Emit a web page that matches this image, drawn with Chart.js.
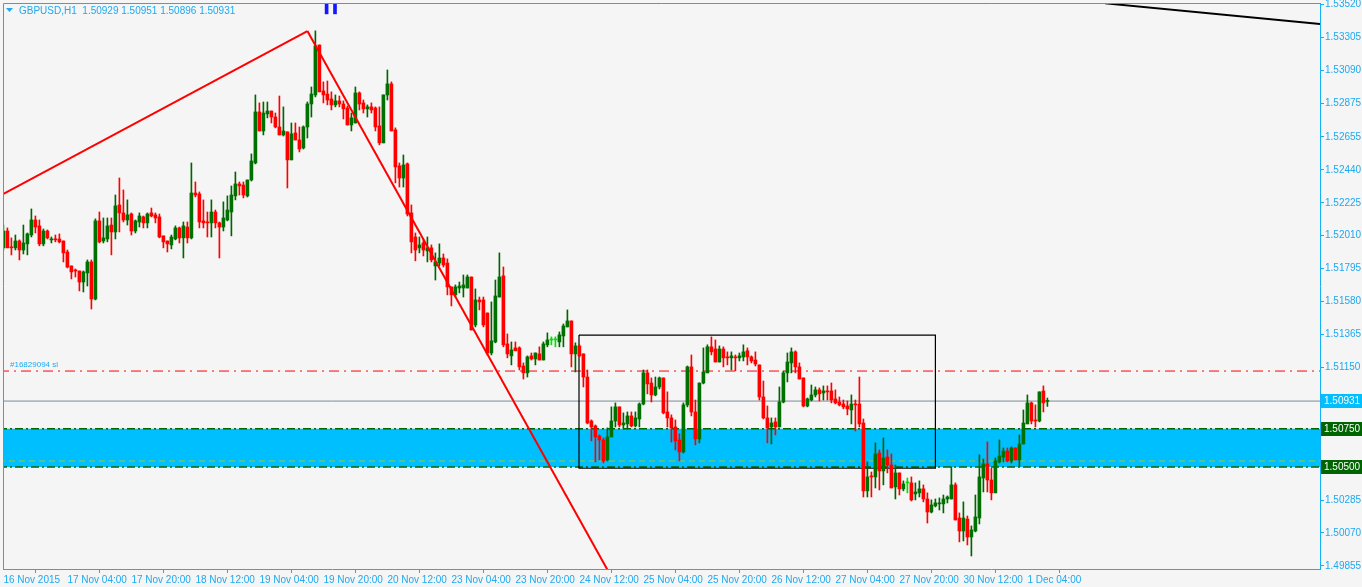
<!DOCTYPE html>
<html>
<head>
<meta charset="utf-8">
<script src="https://cdn.jsdelivr.net/npm/chart.js@4.4.1/dist/chart.umd.min.js"></script>
<style>
  html, body { margin: 0; padding: 0; background: #f5f5f5; }
  canvas { display: block; }
</style>
</head>
<body>
<canvas id="chart" width="1362" height="587"></canvas>
<script>
// GBPUSD H1 candles, 16 Nov 2015 12:00 -> 1 Dec 2015 09:00
const openP = [
  1.51931,1.52041,1.51937,1.51931,1.51976,1.51917,1.51957,1.52015,1.52113,1.52074,
  1.51957,1.52041,1.51983,1.51989,1.51989,1.51976,1.51904,1.51813,1.51787,1.51780,
  1.51708,1.51767,1.51839,1.51597,1.52107,1.51976,1.51989,1.52080,1.52035,1.52211,
  1.52159,1.52113,1.52152,1.52041,1.52100,1.52133,1.52094,1.52159,1.52146,1.52133,
  1.52009,1.51976,1.51950,1.51989,1.52061,1.51996,1.52067,1.51996,1.52289,1.52283,
  1.52107,1.52100,1.52094,1.52165,1.52094,1.52067,1.52113,1.52165,1.52270,1.52348,
  1.52341,1.52270,1.52374,1.52485,1.52818,1.52694,1.52805,1.52824,1.52785,1.52720,
  1.52668,1.52688,1.52505,1.52681,1.52635,1.52583,1.52720,1.52870,1.52929,1.53255,
  1.52955,1.52935,1.52903,1.52864,1.52890,1.52870,1.52844,1.52733,1.52746,1.52942,
  1.52877,1.52838,1.52851,1.52844,1.52727,1.52616,1.52929,1.53001,1.52701,1.52466,
  1.52387,1.52479,1.52159,1.52002,1.51931,1.51963,1.51911,1.51931,1.51813,1.51832,
  1.51865,1.51832,1.51676,1.51624,1.51669,1.51669,1.51669,1.51741,1.51428,1.51591,
  1.51591,1.51506,1.51245,1.51317,1.51610,1.51748,1.51304,1.51226,1.51278,1.51278,
  1.51160,1.51115,1.51226,1.51206,1.51239,1.51199,1.51298,1.51330,1.51330,1.51317,
  1.51356,1.51415,1.51454,1.51239,1.51291,1.51239,1.51088,1.50801,1.50769,1.50703,
  1.50677,1.50547,1.50697,1.50801,1.50893,1.50775,1.50782,1.50834,1.50769,1.50814,
  1.50912,1.51115,1.51049,1.50971,1.51023,1.51082,1.50860,1.50821,1.50762,1.50677,
  1.50599,1.50906,1.51154,1.50860,1.50684,1.51049,1.51115,1.51285,1.51271,1.51186,
  1.51271,1.51219,1.51213,1.51219,1.51213,1.51219,1.51259,1.51219,1.51199,1.51167,
  1.50958,1.50821,1.50762,1.50795,1.50762,1.50925,1.51115,1.51180,1.51252,1.51154,
  1.51082,1.50899,1.50938,1.50971,1.51004,1.50984,1.50997,1.50997,1.50945,1.50925,
  1.50912,1.50899,1.50873,1.50912,1.50912,1.50788,1.50345,1.50442,1.50436,1.50592,
  1.50475,1.50566,1.50514,1.50371,1.50462,1.50358,1.50397,1.50397,1.50325,1.50332,
  1.50358,1.50292,1.50207,1.50247,1.50260,1.50260,1.50292,1.50292,1.50384,1.50168,
  1.50083,1.50161,1.50044,1.50083,1.50168,1.50429,1.50521,1.50416,1.50332,1.50534,
  1.50566,1.50605,1.50540,1.50625,1.50547,1.50651,1.50782,1.50919,1.50808,1.50801,
  1.50997,1.50929
];
const highP = [
  1.52080,1.52061,1.51996,1.52015,1.51983,1.52080,1.52028,1.52185,1.52139,1.52113,
  1.52054,1.52048,1.52002,1.52015,1.52022,1.51976,1.51917,1.51813,1.51793,1.51780,
  1.51780,1.51852,1.51852,1.52120,1.52165,1.52126,1.52126,1.52126,1.52276,1.52387,
  1.52309,1.52244,1.52159,1.52113,1.52159,1.52139,1.52159,1.52191,1.52159,1.52152,
  1.52009,1.51976,1.52015,1.52074,1.52067,1.52100,1.52100,1.52485,1.52361,1.52296,
  1.52244,1.52165,1.52244,1.52178,1.52100,1.52231,1.52270,1.52335,1.52426,1.52361,
  1.52361,1.52374,1.52544,1.52929,1.52877,1.52883,1.52883,1.52824,1.52811,1.52922,
  1.52851,1.52688,1.52746,1.52746,1.52720,1.52727,1.52883,1.52981,1.53347,1.53255,
  1.53014,1.53020,1.52949,1.52929,1.52922,1.52890,1.52857,1.52811,1.52981,1.52949,
  1.52896,1.52864,1.52877,1.52851,1.52851,1.52929,1.53092,1.53014,1.52714,1.52485,
  1.52537,1.52485,1.52211,1.52028,1.52002,1.51989,1.52002,1.51950,1.51898,1.51957,
  1.51891,1.51859,1.51676,1.51689,1.51708,1.51754,1.51754,1.51741,1.51663,1.51610,
  1.51610,1.51506,1.51578,1.51721,1.51898,1.51806,1.51369,1.51317,1.51317,1.51285,
  1.51180,1.51226,1.51245,1.51245,1.51285,1.51317,1.51376,1.51350,1.51350,1.51382,
  1.51434,1.51526,1.51454,1.51311,1.51298,1.51239,1.51134,1.50808,1.50775,1.50710,
  1.50690,1.50756,1.50893,1.50919,1.50893,1.50854,1.50860,1.50860,1.50860,1.50919,
  1.51134,1.51134,1.51082,1.51088,1.51088,1.51082,1.50991,1.50841,1.50808,1.50717,
  1.50919,1.51160,1.51232,1.50938,1.51049,1.51278,1.51298,1.51350,1.51330,1.51291,
  1.51285,1.51252,1.51252,1.51232,1.51245,1.51298,1.51278,1.51226,1.51252,1.51167,
  1.51062,1.50899,1.50821,1.50821,1.51023,1.51128,1.51245,1.51278,1.51259,1.51180,
  1.51082,1.50951,1.51036,1.51023,1.51017,1.51030,1.51030,1.51049,1.51004,1.50958,
  1.50938,1.50932,1.50971,1.50938,1.51088,1.50814,1.50534,1.50468,1.50658,1.50612,
  1.50690,1.50612,1.50586,1.50514,1.50462,1.50410,1.50429,1.50436,1.50397,1.50410,
  1.50384,1.50332,1.50286,1.50292,1.50299,1.50318,1.50312,1.50501,1.50397,1.50201,
  1.50273,1.50181,1.50116,1.50318,1.50580,1.50553,1.50664,1.50494,1.50560,1.50677,
  1.50625,1.50625,1.50632,1.50625,1.50710,1.50873,1.50971,1.50925,1.50906,1.50991,
  1.51030,1.50951
];
const lowP = [
  1.51917,1.51931,1.51885,1.51917,1.51852,1.51891,1.51885,1.52002,1.52028,1.51944,
  1.51944,1.51989,1.51963,1.51970,1.51963,1.51839,1.51800,1.51728,1.51741,1.51650,
  1.51643,1.51682,1.51532,1.51591,1.51963,1.51963,1.51970,1.51885,1.51989,1.52035,
  1.52100,1.52080,1.52015,1.52028,1.52067,1.52061,1.52061,1.52133,1.52094,1.51996,
  1.51931,1.51904,1.51924,1.51983,1.51963,1.51865,1.51963,1.51989,1.52263,1.52061,
  1.52061,1.52002,1.52002,1.52061,1.51865,1.52041,1.52107,1.52009,1.52244,1.52276,
  1.52257,1.52263,1.52367,1.52479,1.52694,1.52668,1.52779,1.52746,1.52714,1.52668,
  1.52661,1.52322,1.52505,1.52635,1.52557,1.52576,1.52648,1.52785,1.52916,1.52949,
  1.52877,1.52864,1.52831,1.52851,1.52851,1.52772,1.52733,1.52694,1.52746,1.52831,
  1.52811,1.52785,1.52811,1.52694,1.52603,1.52616,1.52896,1.52694,1.52355,1.52328,
  1.52328,1.52139,1.51898,1.51846,1.51898,1.51878,1.51839,1.51839,1.51721,1.51813,
  1.51806,1.51624,1.51552,1.51610,1.51637,1.51610,1.51669,1.51395,1.51415,1.51526,
  1.51415,1.51232,1.51232,1.51311,1.51610,1.51285,1.51213,1.51167,1.51259,1.51134,
  1.51075,1.51088,1.51199,1.51167,1.51199,1.51199,1.51285,1.51298,1.51285,1.51285,
  1.51285,1.51415,1.51154,1.51121,1.51219,1.51023,1.50782,1.50671,1.50534,1.50547,
  1.50527,1.50540,1.50697,1.50762,1.50762,1.50749,1.50749,1.50762,1.50762,1.50762,
  1.50906,1.50978,1.50925,1.50965,1.51010,1.50847,1.50762,1.50664,1.50612,1.50540,
  1.50592,1.50893,1.50834,1.50645,1.50658,1.51043,1.51115,1.51232,1.51186,1.51186,
  1.51154,1.51167,1.51134,1.51128,1.51193,1.51193,1.51167,1.51180,1.51160,1.50938,
  1.50814,1.50658,1.50651,1.50710,1.50762,1.50919,1.51056,1.51115,1.51115,1.51075,
  1.50893,1.50893,1.50932,1.50958,1.50932,1.50938,1.50938,1.50919,1.50912,1.50899,
  1.50880,1.50841,1.50782,1.50736,1.50762,1.50305,1.50305,1.50305,1.50364,1.50351,
  1.50384,1.50462,1.50364,1.50292,1.50318,1.50345,1.50332,1.50279,1.50286,1.50305,
  1.50273,1.50135,1.50201,1.50240,1.50220,1.50201,1.50266,1.50292,1.50155,1.50012,
  1.50018,1.49992,1.49920,1.50077,1.50129,1.50338,1.50338,1.50286,1.50332,1.50527,
  1.50534,1.50534,1.50527,1.50547,1.50501,1.50651,1.50782,1.50782,1.50762,1.50795,
  1.50860,1.50896
];
const closeP = [
  1.52041,1.51931,1.51931,1.51976,1.51917,1.51963,1.52022,1.52113,1.52067,1.51957,
  1.52041,1.51996,1.51989,1.51983,1.51970,1.51898,1.51806,1.51774,1.51780,1.51708,
  1.51774,1.51839,1.51597,1.52107,1.51970,1.51996,1.52074,1.52035,1.52205,1.52159,
  1.52113,1.52146,1.52041,1.52107,1.52139,1.52094,1.52152,1.52139,1.52126,1.52002,
  1.51970,1.51957,1.52002,1.52061,1.51996,1.52074,1.51996,1.52289,1.52276,1.52100,
  1.52094,1.52094,1.52165,1.52094,1.52067,1.52126,1.52178,1.52276,1.52348,1.52335,
  1.52276,1.52374,1.52498,1.52818,1.52694,1.52811,1.52824,1.52785,1.52720,1.52668,
  1.52694,1.52505,1.52675,1.52635,1.52576,1.52720,1.52870,1.52935,1.53249,1.52949,
  1.52929,1.52896,1.52864,1.52890,1.52870,1.52838,1.52733,1.52779,1.52942,1.52870,
  1.52838,1.52851,1.52831,1.52720,1.52616,1.52929,1.53001,1.52694,1.52459,1.52387,
  1.52472,1.52152,1.51970,1.51917,1.51950,1.51917,1.51931,1.51852,1.51839,1.51865,
  1.51819,1.51676,1.51624,1.51676,1.51682,1.51689,1.51741,1.51395,1.51591,1.51578,
  1.51428,1.51245,1.51324,1.51617,1.51741,1.51298,1.51239,1.51265,1.51259,1.51154,
  1.51115,1.51219,1.51206,1.51245,1.51199,1.51304,1.51330,1.51330,1.51330,1.51363,
  1.51421,1.51454,1.51239,1.51291,1.51226,1.51088,1.50788,1.50762,1.50697,1.50677,
  1.50540,1.50697,1.50801,1.50893,1.50775,1.50788,1.50834,1.50769,1.50821,1.50912,
  1.51115,1.51043,1.50971,1.51023,1.51082,1.50854,1.50821,1.50756,1.50671,1.50599,
  1.50906,1.51154,1.50860,1.50684,1.51049,1.51121,1.51285,1.51252,1.51186,1.51271,
  1.51213,1.51213,1.51226,1.51213,1.51226,1.51252,1.51219,1.51193,1.51173,1.50958,
  1.50821,1.50756,1.50788,1.50762,1.50925,1.51115,1.51186,1.51252,1.51154,1.51075,
  1.50899,1.50945,1.50971,1.51004,1.50978,1.50997,1.50991,1.50938,1.50919,1.50906,
  1.50893,1.50880,1.50912,1.50906,1.50782,1.50345,1.50436,1.50436,1.50586,1.50475,
  1.50560,1.50514,1.50364,1.50462,1.50358,1.50390,1.50397,1.50286,1.50338,1.50358,
  1.50292,1.50207,1.50253,1.50266,1.50266,1.50292,1.50305,1.50384,1.50155,1.50083,
  1.50168,1.50044,1.50090,1.50175,1.50436,1.50521,1.50416,1.50332,1.50540,1.50573,
  1.50605,1.50540,1.50625,1.50547,1.50651,1.50788,1.50919,1.50801,1.50801,1.50991,
  1.50919,1.50931
];

const xTickBars = [0, 16, 32, 48, 64, 80, 96, 112, 128, 144, 160, 176, 192, 208, 224, 240, 256];
const xTickLabels = ["16 Nov 2015", "17 Nov 04:00", "17 Nov 20:00", "18 Nov 12:00", "19 Nov 04:00",
  "19 Nov 20:00", "20 Nov 12:00", "23 Nov 04:00", "23 Nov 20:00", "24 Nov 12:00", "25 Nov 04:00",
  "25 Nov 20:00", "26 Nov 12:00", "27 Nov 04:00", "27 Nov 20:00", "30 Nov 12:00", "1 Dec 04:00"];
const yTicks = [1.53520, 1.53305, 1.53090, 1.52875, 1.52655, 1.52440, 1.52225, 1.52010, 1.51795,
  1.51580, 1.51365, 1.51150, 1.50935, 1.50720, 1.50505, 1.50285, 1.50070, 1.49855];

// chart objects
const zoneTop = 1.50750, zoneBottom = 1.50500;
const slLevel = 1.51127, bidLevel = 1.50931, entryLevel = 1.50540;
const zigzagUp = [{ x: 0, y: 1.52283 }, { x: 76, y: 1.53346 }];
const zigzagDown = [{ x: 76, y: 1.53346 }, { x: 156, y: 1.49596 }];
const topTrend = [{ x: 275.4, y: 1.53527 }, { x: 330, y: 1.53390 }];
const boxBars = [143.9, 233.0];
const boxPrices = [1.51362, 1.50494];
const markerBars = [80.8, 82.9];
const markerRange = [1.53458, 1.53535];
const tagLevels = [1.50931, 1.50750, 1.50500];
const header = "GBPUSD,H1  1.50929 1.50951 1.50896 1.50931";
const slText = "#16829094 sl";

const X_MIN = -0.1, X_MAX = 329.15;
const Y_MIN = 1.49835, Y_MAX = 1.53529;
const AXIS_BLUE = "#12b2f2";
const TEXT_BLUE = "#1ea9f0";
const FONT = "Liberation Sans";

const idx = openP.map((_, i) => i);
const kind = idx.map(i => closeP[i] > openP[i] ? 1 : (closeP[i] < openP[i] ? -1 : 0));
const wickColor = kind.map(k => k > 0 ? "#006400" : (k < 0 ? "#ff0000" : "#00e000"));
const bodyColor = kind.map(k => k > 0 ? "#007000" : (k < 0 ? "#ff0000" : "#00e000"));

function hLine(y, color, dash, width) {
  return {
    type: "line",
    data: [{ x: X_MIN - 1, y }, { x: X_MAX + 1, y }],
    borderColor: color, borderWidth: width || 1, borderDash: dash || [],
    pointRadius: 0, clip: 0, order: 8
  };
}

const frame = {
  id: "frame",
  afterDraw(chart) {
    const { ctx, chartArea: a, scales } = chart;
    ctx.save();
    // left and top border of the plot
    ctx.strokeStyle = AXIS_BLUE;
    ctx.lineWidth = 1;
    ctx.beginPath();
    ctx.moveTo(a.left + 0.5, a.bottom);
    ctx.lineTo(a.left + 0.5, a.top + 0.5);
    ctx.lineTo(a.right, a.top + 0.5);
    ctx.stroke();

    // header
    ctx.fillStyle = TEXT_BLUE;
    ctx.beginPath();
    ctx.moveTo(6, 8); ctx.lineTo(13, 8); ctx.lineTo(9.5, 12);
    ctx.closePath();
    ctx.fill();
    ctx.font = "10px '" + FONT + "'";
    ctx.textBaseline = "alphabetic";
    ctx.fillText(header, 19, 14);

    // stop-loss label
    ctx.font = "8px '" + FONT + "'";
    const ySl = scales.y.getPixelForValue(slLevel);
    ctx.fillText(slText, 10, ySl - 4);

    // price tags on the axis
    const bgs = ["#00bfff", "#006400", "#006400"];
    ctx.font = "10px '" + FONT + "'";
    ctx.textBaseline = "middle";
    tagLevels.forEach((v, k) => {
      const y = Math.round(scales.y.getPixelForValue(v));
      ctx.fillStyle = bgs[k];
      ctx.fillRect(a.right + 1, y - 7, 41, 14);
      ctx.fillStyle = "#ffffff";
      ctx.fillText(v.toFixed(5), a.right + 4, y + 0.5);
    });
    ctx.restore();
  }
};

new Chart(document.getElementById("chart"), {
  type: "bar",
  data: {
    datasets: [
      {
        type: "line", data: zigzagUp, borderColor: "#ff0000", borderWidth: 2,
        pointRadius: 0, clip: 0, order: 1
      },
      {
        type: "line", data: zigzagDown, borderColor: "#ff0000", borderWidth: 2,
        pointRadius: 0, clip: 0, order: 1
      },
      {
        type: "line", data: topTrend, borderColor: "#000000", borderWidth: 2,
        pointRadius: 0, clip: 0, order: 1
      },
      {
        data: markerBars.map(x => ({ x, y: markerRange })),
        backgroundColor: "#1515ff", barThickness: 3, grouped: false, order: 1
      },
      {
        data: idx.map(i => ({ x: i, y: [openP[i], closeP[i]] })),
        backgroundColor: bodyColor, barThickness: 3, minBarLength: 1,
        grouped: false, order: 3
      },
      {
        data: idx.map(i => ({ x: i, y: [lowP[i], highP[i]] })),
        backgroundColor: wickColor, barThickness: 1, grouped: false, order: 4
      },
      {
        type: "line",
        data: [
          { x: boxBars[0], y: boxPrices[0] }, { x: boxBars[1], y: boxPrices[0] },
          { x: boxBars[1], y: boxPrices[1] }, { x: boxBars[0], y: boxPrices[1] },
          { x: boxBars[0], y: boxPrices[0] }
        ],
        borderColor: "#000000", borderWidth: 1.2, pointRadius: 0, clip: 0, order: 6
      },
      hLine(slLevel, "#ff0000", [10, 5, 2, 5], 1),
      hLine(bidLevel, "#7a8a99", [], 1),
      hLine(zoneTop, "#006400", [8, 3, 2, 3], 1.5),
      hLine(zoneBottom, "#006400", [8, 3, 2, 3], 1.5),
      hLine(entryLevel, "#9acd32", [6, 4], 1),
      {
        type: "line",
        data: [{ x: X_MIN - 1, y: zoneTop }, { x: X_MAX + 1, y: zoneTop }],
        borderWidth: 0, pointRadius: 0, clip: 0,
        fill: { value: zoneBottom }, backgroundColor: "#00bfff", order: 10
      }
    ]
  },
  options: {
    responsive: false,
    devicePixelRatio: 1,
    animation: false,
    layout: { padding: { left: 3, top: 3, right: 0, bottom: 0 } },
    plugins: { legend: { display: false }, tooltip: { enabled: false }, title: { display: false } },
    scales: {
      x: {
        type: "linear", position: "bottom", min: X_MIN, max: X_MAX, offset: false,
        afterBuildTicks: s => { s.ticks = xTickBars.map(v => ({ value: v })); },
        afterFit: s => { s.height = 18; s.paddingLeft = 0; s.paddingRight = 0; },
        ticks: {
          autoSkip: false, maxRotation: 0, align: "start", padding: 1,
          color: TEXT_BLUE, font: { family: FONT, size: 10 },
          callback: v => { const k = xTickBars.indexOf(v); return k >= 0 ? xTickLabels[k] : ""; }
        },
        grid: { drawOnChartArea: false, tickLength: 4, color: AXIS_BLUE },
        border: { color: AXIS_BLUE, width: 1 }
      },
      y: {
        type: "linear", position: "right", min: Y_MIN, max: Y_MAX,
        afterBuildTicks: s => { s.ticks = yTicks.map(v => ({ value: v })); },
        afterFit: s => { s.width = 42; s.paddingTop = 0; s.paddingBottom = 0; },
        ticks: {
          padding: 1, color: TEXT_BLUE, font: { family: FONT, size: 10 },
          callback: v => v.toFixed(5)
        },
        grid: { drawOnChartArea: false, tickLength: 4, color: AXIS_BLUE },
        border: { color: AXIS_BLUE, width: 1 }
      }
    }
  },
  plugins: [frame]
});
</script>
</body>
</html>
